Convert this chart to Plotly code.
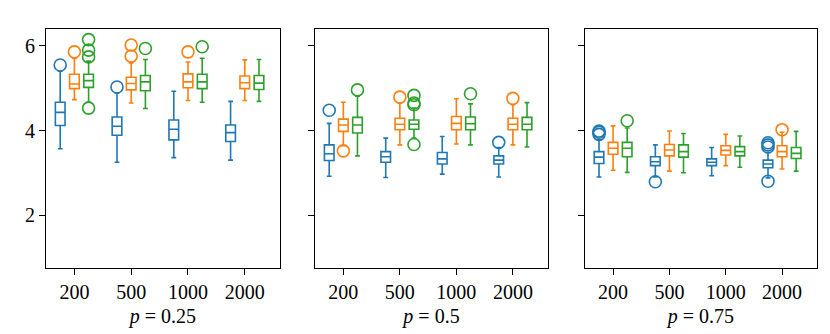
import plotly.graph_objects as go

# categories and panels
sizes = ["200", "500", "1000", "2000"]
panels = ["0.25", "0.5", "0.75"]
colors = ["#1f77b4", "#ff7f0e", "#2ca02c"]

# box stats, indexed [panel][series][size]
q1 = [
    [[4.12, 3.89, 3.78, 3.74], [4.99, 4.96, 5.01, 4.99], [5.02, 4.94, 4.99, 4.97]],
    [[3.29, 3.25, 3.21, 3.21], [3.98, 4.02, 4.02, 4.02], [3.94, 4.03, 4.02, 4.02]],
    [[3.22, 3.17, 3.17, 3.12], [3.44, 3.40, 3.42, 3.38], [3.38, 3.37, 3.40, 3.34]],
]
med = [
    [[4.43, 4.10, 4.03, 3.95], [5.10, 5.11, 5.15, 5.13], [5.18, 5.15, 5.15, 5.12]],
    [[3.45, 3.38, 3.33, 3.30], [4.13, 4.15, 4.17, 4.15], [4.13, 4.15, 4.16, 4.15]],
    [[3.37, 3.26, 3.25, 3.21], [3.58, 3.54, 3.53, 3.50], [3.58, 3.50, 3.50, 3.46]],
]
q3 = [
    [[4.67, 4.32, 4.25, 4.13], [5.33, 5.26, 5.34, 5.29], [5.33, 5.30, 5.33, 5.30]],
    [[3.66, 3.50, 3.48, 3.40], [4.27, 4.29, 4.33, 4.29], [4.31, 4.25, 4.32, 4.31]],
    [[3.50, 3.38, 3.33, 3.30], [3.72, 3.67, 3.64, 3.64], [3.72, 3.66, 3.62, 3.60]],
]
lo = [
    [[3.57, 3.25, 3.36, 3.30], [4.73, 4.65, 4.71, 4.71], [4.67, 4.52, 4.67, 4.69]],
    [[2.92, 2.89, 2.97, 2.90], [3.64, 3.66, 3.68, 3.66], [3.40, 3.82, 3.66, 3.61]],
    [[2.90, 2.90, 2.93, 2.88], [3.06, 3.04, 3.17, 3.09], [3.01, 3.00, 3.13, 3.04]],
]
hi = [
    [[5.40, 4.89, 4.93, 4.69], [5.71, 5.60, 5.62, 5.67], [5.64, 5.68, 5.71, 5.68]],
    [[4.17, 3.82, 3.86, 3.60], [4.67, 4.65, 4.75, 4.61], [4.81, 4.53, 4.63, 4.66]],
    [[3.78, 3.66, 3.60, 3.48], [4.11, 3.99, 3.91, 3.96], [4.06, 3.93, 3.87, 3.98]],
]
# outliers, indexed [panel][series][size] -> list of values
fliers = [
    [[[5.55], [5.03], [], []],
     [[5.86], [6.02, 5.76], [5.86], []],
     [[6.15, 5.90, 5.74, 4.53], [5.94], [5.98], []]],
    [[[4.48], [], [], [3.72]],
     [[3.52], [4.79], [], [4.76]],
     [[4.96], [4.83, 4.65, 4.61, 3.67], [4.87], []]],
    [[[3.99, 3.96, 3.91], [2.79], [], [3.71, 3.66, 3.61, 2.80]],
     [[], [], [], [4.02]],
     [[4.23], [], [], []]],
]
offsets = [-0.25, 0.0, 0.25]

fig = go.Figure()
font = dict(family="Liberation Serif", size=20, color="black")
domains = [[0, 0.3035], [0.349, 0.651], [0.699, 1.0]]

for p in range(3):
    xa = "x" if p == 0 else f"x{p + 1}"
    ya = "y" if p == 0 else f"y{p + 1}"
    for s in range(3):
        xs = [g + offsets[s] for g in range(4)]
        fig.add_trace(go.Box(
            x=xs, q1=q1[p][s], median=med[p][s], q3=q3[p][s],
            lowerfence=lo[p][s], upperfence=hi[p][s],
            width=0.17, whiskerwidth=0.5, boxpoints=False,
            line=dict(color=colors[s], width=1.6),
            fillcolor="rgba(255,255,255,0)",
            xaxis=xa, yaxis=ya, showlegend=False, hoverinfo="skip",
        ))
        fx, fy = [], []
        for g in range(4):
            for v in fliers[p][s][g]:
                fx.append(g + offsets[s])
                fy.append(v)
        fig.add_trace(go.Scatter(
            x=fx, y=fy, mode="markers",
            marker=dict(symbol="circle-open", size=12, color=colors[s],
                        line=dict(width=1.6, color=colors[s])),
            xaxis=xa, yaxis=ya, showlegend=False, hoverinfo="skip",
        ))

    axis_style = dict(showline=True, mirror=True, linecolor="black", linewidth=1.2,
                      ticks="outside", ticklen=6, tickwidth=1.2, tickcolor="black",
                      showgrid=False, zeroline=False, tickfont=font, automargin=False)
    fig.layout[("xaxis" if p == 0 else f"xaxis{p + 1}")] = dict(
        domain=domains[p], anchor=ya, range=[-0.5, 3.62],
        tickvals=[0, 1, 2, 3], ticktext=sizes,
        title=dict(text=f"<i>p</i>\u2005=\u2005{panels[p]}", font=font, standoff=6),
        **axis_style)
    fig.layout[("yaxis" if p == 0 else f"yaxis{p + 1}")] = dict(
        anchor=xa, range=[0.75, 6.4], tickvals=[2, 4, 6],
        showticklabels=(p == 0), **axis_style)

fig.update_layout(
    width=830, height=334,
    margin=dict(l=38, r=21, t=21, b=74),
    paper_bgcolor="white", plot_bgcolor="white",
)
fig.write_html("out.html")
